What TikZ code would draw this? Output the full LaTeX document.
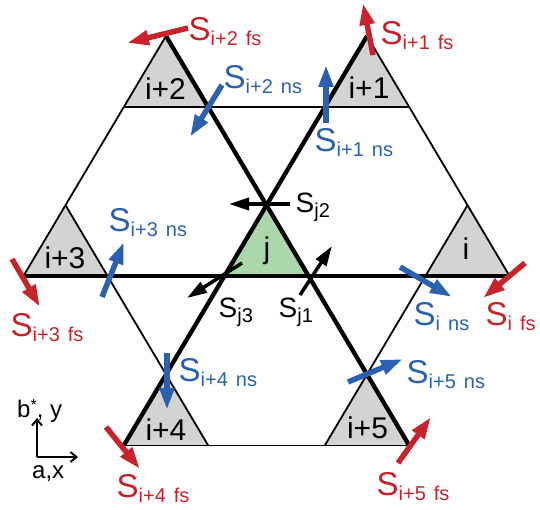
\documentclass[tikz,border=0pt]{standalone}
\usepackage{fontspec}
\setmainfont{Liberation Sans}
\usetikzlibrary{arrows.meta}
\definecolor{spinred}{RGB}{200,34,44}
\definecolor{spinblue}{RGB}{44,96,176}
\definecolor{trigray}{RGB}{211,211,211}
\definecolor{trigreen}{RGB}{170,216,170}
\newcommand{\spinlab}[3]{\fontsize{#1}{#1}\selectfont S\raisebox{-5pt}{\fontsize{#2}{#2}\selectfont #3}}
\newcommand{\gap}{\hspace{0.4em}}
\begin{document}
\begin{tikzpicture}[x=1pt,y=-1pt,
  thickline/.style={line width=4.3pt},
  thinline/.style={line width=1.8pt},
  spinarrow/.style={line width=5.5pt,-{Triangle[length=22pt,width=14pt]}},
  jarrow/.style={line width=3.5pt,-{Triangle[length=20pt,width=12pt]}},
  axisarrow/.style={line width=2pt,-{Straight Barb[length=6pt,width=10pt]}},
  slabel/.style={anchor=base west,inner sep=0pt},
  tlabel/.style={anchor=base,inner sep=0pt,font=\fontsize{30}{30}\selectfont},
  alabel/.style={anchor=base west,inner sep=0pt,font=\fontsize{24}{24}\selectfont}]
\useasboundingbox (0,0) rectangle (540,510);
% lattice vertices
\coordinate (T2) at (166,36);
\coordinate (T2l) at (123.83,107);
\coordinate (T2r) at (208.17,107);
\coordinate (T1) at (367,36);
\coordinate (T1l) at (324.83,107);
\coordinate (T1r) at (409.17,107);
\coordinate (T3) at (65.5,205.2);
\coordinate (T3l) at (23.33,276.2);
\coordinate (T3r) at (107.67,276.2);
\coordinate (TJ) at (266.5,205.2);
\coordinate (TJl) at (224.33,276.2);
\coordinate (TJr) at (308.67,276.2);
\coordinate (T0) at (467.5,205.2);
\coordinate (T0l) at (425.33,276.2);
\coordinate (T0r) at (509.67,276.2);
\coordinate (T4) at (166,374.4);
\coordinate (T4l) at (123.83,445.4);
\coordinate (T4r) at (208.17,445.4);
\coordinate (T5) at (367,374.4);
\coordinate (T5l) at (324.83,445.4);
\coordinate (T5r) at (409.17,445.4);
% triangle fills
\fill[trigray] (T2)--(T2l)--(T2r)--cycle;
\fill[trigray] (T1)--(T1l)--(T1r)--cycle;
\fill[trigray] (T3)--(T3l)--(T3r)--cycle;
\fill[trigray] (T0)--(T0l)--(T0r)--cycle;
\fill[trigray] (T4)--(T4l)--(T4r)--cycle;
\fill[trigray] (T5)--(T5l)--(T5r)--cycle;
\fill[trigreen] (TJ)--(TJl)--(TJr)--cycle;
% thin lines
\draw[thinline] (T2l)--(T1r);
\draw[thinline] (T4l)--(T5r);
\draw[thinline] (T2)--(T3l);
\draw[thinline] (T3)--(T4r);
\draw[thinline] (T1)--(T0r);
\draw[thinline] (T0)--(T5l);
% thick lines
\draw[thickline] (T3l)--(T0r);
\draw[thickline] (T2)--(T5r);
\draw[thickline] (T1)--(T4l);
% triangle labels
\node[tlabel] (L2) at (165.5,100) {i+2};
\node[tlabel] (L1) at (369,99) {i+1};
\node[tlabel] (L3) at (65,269) {i+3};
\node[tlabel] (L0) at (466,260) {i};
\node[tlabel] (LJ) at (267,259) {j};
\node[tlabel] (L4) at (166,440) {i+4};
\node[tlabel] (L5) at (367.5,438) {i+5};
% spin arrow end points
\coordinate (a2ft) at (188,28);  \coordinate (a2fh) at (127,43);
\coordinate (a2nt) at (222,85);  \coordinate (a2nh) at (190,137);
\coordinate (a1ft) at (373,55);  \coordinate (a1fh) at (363,3);
\coordinate (a1nt) at (326,123); \coordinate (a1nh) at (326,65);
\coordinate (a3nt) at (102,297); \coordinate (a3nh) at (124,242);
\coordinate (a3ft) at (12,259);  \coordinate (a3fh) at (40,307);
\coordinate (aj2t) at (290,204); \coordinate (aj2h) at (229,204);
\coordinate (aj3t) at (242,263); \coordinate (aj3h) at (187,298);
\coordinate (aj1t) at (300,295); \coordinate (aj1h) at (332,246);
\coordinate (a0nt) at (400,267); \coordinate (a0nh) at (452,297);
\coordinate (a0ft) at (525,263); \coordinate (a0fh) at (483,298);
\coordinate (a4nt) at (167,353); \coordinate (a4nh) at (167,410);
\coordinate (a4ft) at (106,427); \coordinate (a4fh) at (140,469);
\coordinate (a5nt) at (348,382); \coordinate (a5nh) at (403,359);
\coordinate (a5ft) at (398,463); \coordinate (a5fh) at (431,417);
% spin arrows
\draw[spinarrow,spinred]  (a2ft)--(a2fh);
\draw[spinarrow,spinblue] (a2nt)--(a2nh);
\draw[spinarrow,spinred]  (a1ft)--(a1fh);
\draw[spinarrow,spinblue] (a1nt)--(a1nh);
\draw[spinarrow,spinblue] (a3nt)--(a3nh);
\draw[spinarrow,spinred]  (a3ft)--(a3fh);
\draw[jarrow] (aj2t)--(aj2h);
\draw[jarrow] (aj3t)--(aj3h);
\draw[jarrow] (aj1t)--(aj1h);
\draw[spinarrow,spinblue] (a0nt)--(a0nh);
\draw[spinarrow,spinred]  (a0ft)--(a0fh);
\draw[spinarrow,spinblue] (a4nt)--(a4nh);
\draw[spinarrow,spinred]  (a4ft)--(a4fh);
\draw[spinarrow,spinblue] (a5nt)--(a5nh);
\draw[spinarrow,spinred]  (a5ft)--(a5fh);
% spin labels
\node[slabel,text=spinred]  (s2f) at (188.5,41) {\spinlab{33}{20}{i+2\gap fs}};
\node[slabel,text=spinred]  (s1f) at (380.5,45) {\spinlab{33}{20}{i+1\gap fs}};
\node[slabel,text=spinblue] (s2n) at (223.5,89) {\spinlab{33}{20}{i+2\gap ns}};
\node[slabel,text=spinblue] (s1n) at (314.5,152) {\spinlab{33}{20}{i+1\gap ns}};
\node[slabel,text=spinblue] (s3n) at (108.5,232) {\spinlab{33}{20}{i+3\gap ns}};
\node[slabel,text=spinred]  (s3f) at (10.5,336) {\spinlab{33}{20}{i+3\gap fs}};
\node[slabel] (sj2) at (295.5,213) {\spinlab{28}{20}{j2}};
\node[slabel] (sj3) at (218.5,317) {\spinlab{28}{20}{j3}};
\node[slabel] (sj1) at (278.5,317) {\spinlab{28}{20}{j1}};
\node[slabel,text=spinblue] (s0n) at (413.5,325) {\spinlab{33}{20}{i\gap ns}};
\node[slabel,text=spinred]  (s0f) at (485.5,325) {\spinlab{33}{20}{i\gap fs}};
\node[slabel,text=spinblue] (s4n) at (178.5,381) {\spinlab{33}{20}{i+4\gap ns}};
\node[slabel,text=spinred]  (s4f) at (116.5,497) {\spinlab{33}{20}{i+4\gap fs}};
\node[slabel,text=spinblue] (s5n) at (406.5,383) {\spinlab{33}{20}{i+5\gap ns}};
\node[slabel,text=spinred]  (s5f) at (376.5,495) {\spinlab{33}{20}{i+5\gap fs}};
% axes
\coordinate (O) at (37,457);
\coordinate (Oy) at (37,418);
\coordinate (Ox) at (78,457);
\draw[axisarrow] (O)--(Oy);
\draw[axisarrow] (O)--(Ox);
\node[alabel] (by) at (17,417) {b\raisebox{7pt}{\fontsize{16}{16}\selectfont *},\ y};
\node[alabel] (ax) at (32,478) {a,x};
\end{tikzpicture}
\end{document}
